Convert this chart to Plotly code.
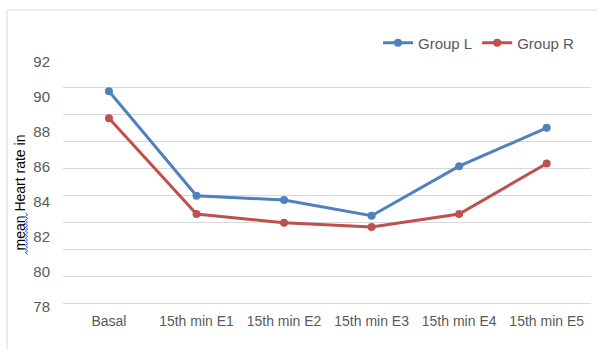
import plotly.graph_objects as go

# Heart rate means per measurement point
categories = ["Basal", "15th min E1", "15th min E2", "15th min E3", "15th min E4", "15th min E5"]
group_l = [90.2, 84.2, 83.95, 83.05, 85.9, 88.1]
group_r = [88.65, 83.15, 82.65, 82.4, 83.15, 86.05]
y_tick_labels = [78, 80, 82, 84, 86, 88, 90, 92]

BLUE = "#4F81BD"
RED = "#C0504D"
GRAY_TXT = "#595959"
GRID = "#D9D9D9"

W, H = 597, 349
L, R, T, B = 63, 6, 60, 42
plot_w = W - L - R
plot_h = H - T - B

# gridlines split the 78-92 span into nine equal bands
grid_vals = [78 + k * 14 / 9 for k in range(10)]

fig = go.Figure()
fig.add_trace(go.Scatter(
    x=categories, y=group_l, name="Group L", mode="lines+markers",
    line=dict(color=BLUE, width=3), marker=dict(color=BLUE, size=8),
))
fig.add_trace(go.Scatter(
    x=categories, y=group_r, name="Group R", mode="lines+markers",
    line=dict(color=RED, width=3), marker=dict(color=RED, size=8),
))
# invisible trace carrying the labelled value axis
fig.add_trace(go.Scatter(
    x=[categories[0]], y=[y_tick_labels[0]], yaxis="y2", mode="markers",
    marker=dict(opacity=0), showlegend=False, hoverinfo="skip",
))


def px_x(p):
    return (p - L) / plot_w


def px_y(q):
    return (T + plot_h - q) / plot_h


shapes = [
    # outer chart frame
    dict(type="rect", xref="paper", yref="paper",
         x0=px_x(7), x1=px_x(W + 20), y0=px_y(H + 20), y1=px_y(10),
         line=dict(color=GRID, width=1), fillcolor="rgba(0,0,0,0)", layer="below"),
]

# wavy spell-check underline beside "mean"
pts = []
q = 213.0
k = 0
while q <= 256:
    pts.append((26.5 + (1.2 if k % 2 else -1.2), q))
    q += 1.8
    k += 1
path = "M " + " L ".join(f"{px_x(a):.5f},{px_y(b):.5f}" for a, b in pts)
shapes.append(dict(type="path", xref="paper", yref="paper", path=path,
                   line=dict(color="#3D5AFE", width=1)))

fig.update_layout(
    width=W, height=H,
    margin=dict(l=L, r=R, t=T, b=B),
    paper_bgcolor="white", plot_bgcolor="white",
    font=dict(family="Liberation Sans, Arial, sans-serif", size=13, color=GRAY_TXT),
    xaxis=dict(
        type="category", range=[-0.525, 5.506],
        showgrid=False, zeroline=False, showline=False, ticks="",
        tickfont=dict(size=14, color=GRAY_TXT),
        ticklabelstandoff=4,
    ),
    yaxis=dict(
        range=[77.804, 92], tickvals=grid_vals, showticklabels=False,
        showgrid=True, gridcolor=GRID, gridwidth=1, zeroline=False, ticks="",
    ),
    yaxis2=dict(
        overlaying="y", side="left", range=[78, 92.097],
        tickvals=y_tick_labels, ticktext=[str(v) for v in y_tick_labels],
        showgrid=False, zeroline=False, ticks="", ticklen=0,
        tickfont=dict(size=15, color=GRAY_TXT),
        ticklabelstandoff=12,
    ),
    legend=dict(
        orientation="h", x=px_x(378), y=px_y(43), xanchor="left", yanchor="middle",
        font=dict(size=15, color=GRAY_TXT), bgcolor="rgba(0,0,0,0)",
        itemwidth=30,
    ),
    showlegend=True,
    shapes=shapes,
    annotations=[
        dict(text="mean Heart rate in", textangle=-90, showarrow=False,
             xref="paper", yref="paper", x=px_x(19), y=px_y(192.5),
             xanchor="center", yanchor="middle",
             font=dict(size=14, color="black")),
    ],
)

fig.write_html("out.html")
